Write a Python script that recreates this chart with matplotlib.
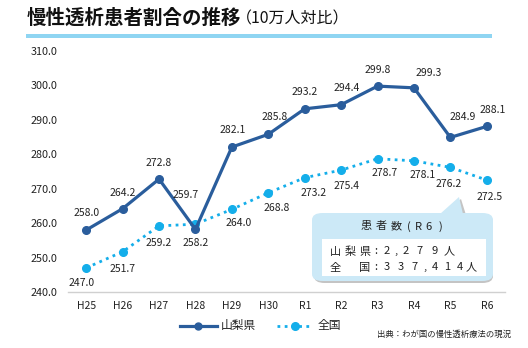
import matplotlib.pyplot as plt
from matplotlib.patches import FancyBboxPatch, Polygon, Rectangle

plt.rcParams['font.family'] = ['Noto Sans CJK JP', 'DejaVu Sans']

years = ["H25", "H26", "H27", "H28", "H29", "H30", "R1", "R2", "R3", "R4", "R5", "R6"]
yamanashi = [258.0, 264.2, 272.8, 258.2, 282.1, 285.8, 293.2, 294.4, 299.8, 299.3, 284.9, 288.1]
zenkoku = [247.0, 251.7, 259.2, 259.7, 264.0, 268.8, 273.2, 275.4, 278.7, 278.1, 276.2, 272.5]
yticks = [240, 250, 260, 270, 280, 290, 300, 310]

box_title = "患者数(R6)"
box_line1 = "山梨県:2,279人"
box_line2 = "全国:337,414人"

# label offsets in pixels (dx, dy)
yam_off = [(0, 17), (0, 16), (0, 16), (0, -14), (1, 17), (6, 17), (0, 17), (6, 17),
           (0, 16), (15, 15), (12, 20), (6, 16)]
zen_off = [(-5, -15), (0, -17), (0, -17), (-10, 29), (7, -14), (8, -15), (9, -15), (5, -16),
           (7, -14), (9, -14), (-2, -17), (3, -17)]

# character centres (px) for the wide-spaced text in the callout
title_xs = [366.5, 381.5, 396, 408.5, 418.5, 428.5, 440.5]
line1_xs = [335, 350, 365, 376, 386.5, 395.5, 406, 420, 434.5, 449.5]
line2_xs = [335, 365, 376, 386.5, 400.5, 414.5, 425, 435, 447.5, 459.5, 471]

DARK = "#2a5d9c"
CYAN = "#14aeea"
TXT = "#222222"

W, H = 528, 348
fig = plt.figure(figsize=(W / 100, H / 100), dpi=100)


def fx(x):
    return x / W


def fy(y):
    return 1 - y / H


def spaced(text, xs, y, **kw):
    for ch, xc in zip(text, xs):
        fig.text(fx(xc), fy(y), ch, ha="center", va="center", **kw)


ax = fig.add_axes([fx(68), fy(292), (505 - 68) / W, (292 - 51) / H])
x = list(range(len(years)))
ax.plot(x, yamanashi, color=DARK, lw=2.3, marker="o", ms=5.5, zorder=3)
ax.plot(x, zenkoku, color=CYAN, lw=2.0, ls=(0, (1, 1.6)), marker="o", ms=5.5, zorder=2)

for i in x:
    ax.annotate(f"{yamanashi[i]:.1f}", (i, yamanashi[i]), xytext=yam_off[i],
                textcoords="offset pixels", ha="center", va="center", fontsize=7.5, color=TXT)
    ax.annotate(f"{zenkoku[i]:.1f}", (i, zenkoku[i]), xytext=zen_off[i],
                textcoords="offset pixels", ha="center", va="center", fontsize=7.5, color=TXT)

ax.set_xlim(-0.5, len(years) - 0.5)
ax.set_ylim(240, 310)
ax.set_yticks(yticks)
ax.set_yticklabels([f"{v:.1f}" for v in yticks], fontsize=7.8, color=TXT)
ax.set_xticks(x)
ax.set_xticklabels(years, fontsize=7.5, color=TXT)
ax.tick_params(length=0)
ax.tick_params(axis="y", pad=7.5)
ax.tick_params(axis="x", pad=6.5)
for s in ["top", "right", "left"]:
    ax.spines[s].set_visible(False)
ax.spines["bottom"].set_color("#d0d0d0")
ax.spines["bottom"].set_linewidth(1)
ax.patch.set_alpha(0)

# title
fig.text(fx(27), fy(18), "慢性透析患者割合の推移", fontsize=14, fontweight="bold", va="center", ha="left", color="#111111")
fig.text(fx(236), fy(19), "（10万人対比）", fontsize=11.5, va="center", ha="left", color="#111111")
fig.patches.append(Rectangle((fx(26), fy(38)), (492 - 26) / W, 4 / H, transform=fig.transFigure,
                             facecolor="#8fd5f2", edgecolor="none"))

# callout
box_col = "#cce9f7"
fig.patches.append(FancyBboxPatch((fx(314), fy(283)), (495 - 316) / W, (283 - 215) / H,
                                  boxstyle="round,pad=0,rounding_size=0.02", transform=fig.transFigure,
                                  facecolor="#c4c4c4", edgecolor="none", zorder=4))
fig.patches.append(Polygon([(fx(442), fy(215)), (fx(461), fy(199)), (fx(466), fy(215))], closed=True,
                           transform=fig.transFigure, facecolor="#c4c4c4", edgecolor="none", zorder=4))
fig.patches.append(FancyBboxPatch((fx(312), fy(281)), (493 - 312) / W, (281 - 213) / H,
                                  boxstyle="round,pad=0,rounding_size=0.02", transform=fig.transFigure,
                                  facecolor=box_col, edgecolor="none", zorder=5))
fig.patches.append(Polygon([(fx(440), fy(214)), (fx(459), fy(197)), (fx(463), fy(214))], closed=True,
                           transform=fig.transFigure, facecolor=box_col, edgecolor="none", zorder=5))
fig.patches.append(Rectangle((fx(322), fy(276)), (486 - 322) / W, (276 - 239) / H, transform=fig.transFigure,
                             facecolor="white", edgecolor="none", zorder=6))
spaced(box_title, title_xs, 226.5, fontsize=8, color=TXT, zorder=7)
spaced(box_line1, line1_xs, 251.5, fontsize=8, color=TXT, zorder=7)
spaced(box_line2, line2_xs, 267.5, fontsize=8, color=TXT, zorder=7)

# legend
fig.add_artist(plt.Line2D([fx(180), fx(217)], [fy(326), fy(326)], color=DARK, lw=2.3))
fig.add_artist(plt.Line2D([fx(198)], [fy(326)], color=DARK, marker="o", ms=5))
fig.text(fx(221), fy(326), "山梨県", fontsize=8.5, va="center", ha="left", color=TXT)
fig.add_artist(plt.Line2D([fx(277), fx(312)], [fy(326), fy(326)], color=CYAN, lw=2.0, ls=(0, (1, 1.6))))
fig.add_artist(plt.Line2D([fx(295)], [fy(326)], color=CYAN, marker="o", ms=5.5))
fig.text(fx(318), fy(326), "全国", fontsize=8.5, va="center", ha="left", color=TXT)
fig.text(fx(377), fy(334), "出典：わが国の慢性透析療法の現況", fontsize=6, va="center", ha="left", color=TXT)

fig.savefig("out.png", dpi=100)
